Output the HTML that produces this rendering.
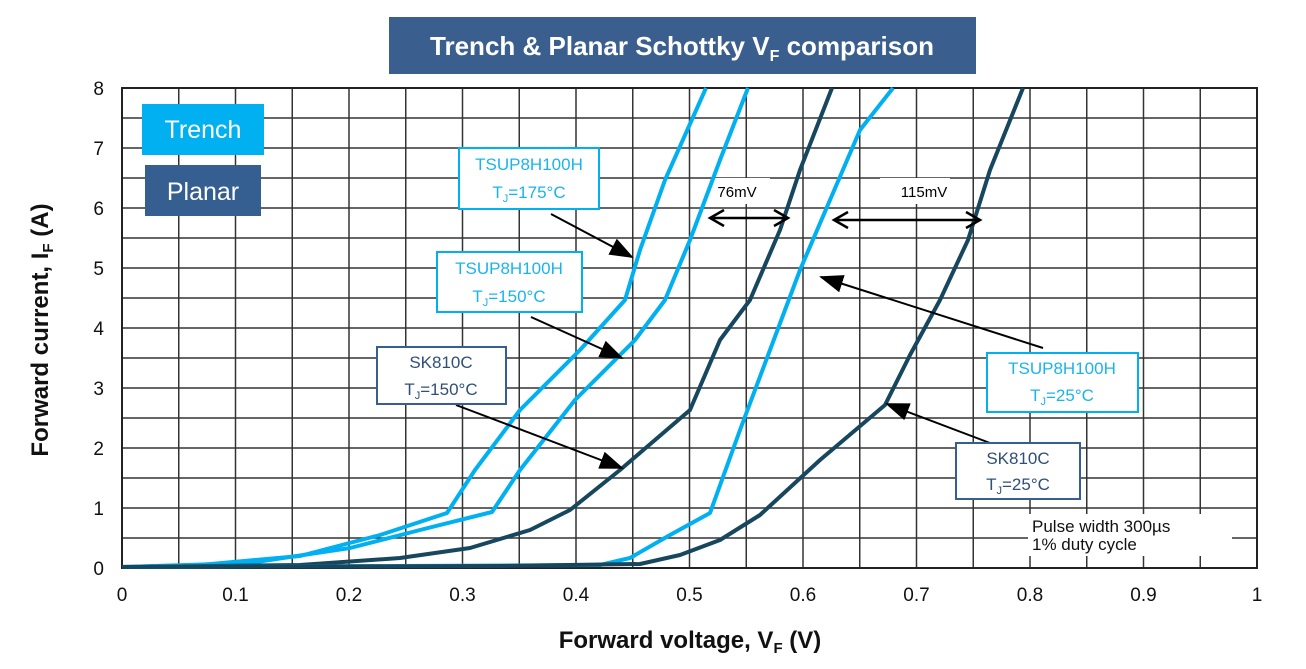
<!DOCTYPE html>
<html><head><meta charset="utf-8"><style>
body{margin:0;background:#fff;width:1306px;height:664px;overflow:hidden;font-family:"Liberation Sans",sans-serif}
</style></head><body>
<svg width="1306" height="664" xmlns="http://www.w3.org/2000/svg" font-family="Liberation Sans, sans-serif">
<defs>
<marker id="ah" markerWidth="24" markerHeight="18" refX="22" refY="9" orient="auto" markerUnits="userSpaceOnUse" viewBox="0 0 24 18"><path d="M0,0L24,9L0,18z" fill="#000"/></marker>
</defs>
<path stroke="#333" stroke-width="1.5" fill="none" d="M178.75,88V568M235.5,88V568M292.25,88V568M349,88V568M405.75,88V568M462.5,88V568M519.25,88V568M576,88V568M632.75,88V568M689.5,88V568M746.25,88V568M803,88V568M859.75,88V568M916.5,88V568M973.25,88V568M1030,88V568M1086.75,88V568M1143.5,88V568M1200.25,88V568
M122,118H1257M122,148H1257M122,178H1257M122,208H1257M122,238H1257M122,268H1257M122,298H1257M122,328H1257M122,358H1257M122,388H1257M122,418H1257M122,448H1257M122,478H1257M122,508H1257M122,538H1257"/>
<rect x="122" y="88" width="1135" height="480" fill="none" stroke="#222" stroke-width="2"/>
<rect x="1028" y="514" width="204" height="42" fill="#fff"/>
<text x="1032" y="532" font-size="17" fill="#111">Pulse width 300µs</text>
<text x="1032" y="550" font-size="17" fill="#111">1% duty cycle</text>
<rect x="712" y="178" width="58" height="26" fill="#fff"/>
<rect x="880" y="178" width="70" height="26" fill="#fff"/>
<text x="737" y="197" font-size="15" text-anchor="middle">76mV</text>
<text x="924" y="197" font-size="15" text-anchor="middle">115mV</text>
<g fill="none" stroke-width="4" stroke-linejoin="round">
<polyline stroke="#00b0f0" points="122,567 200,565 300,556 380,535 447,513 475,470 520,410 580,350 625,300 640,250 665,180 706,88"/>
<polyline stroke="#00b0f0" points="122,567 250,563 350,548 420,530 492,512 520,470 575,400 635,340 665,300 690,240 720,160 748,88"/>
<polyline stroke="#17475f" points="122,567 300,565 400,558 470,548 530,530 570,510 620,470 690,410 720,340 750,300 780,230 800,170 832,88"/>
<polyline stroke="#00b0f0" points="122,567 400,566 600,565 630,558 670,535 710,513 740,430 770,350 800,270 830,200 860,130 893,88"/>
<polyline stroke="#17475f" points="122,567 500,566 640,564 680,555 720,540 760,515 820,460 885,405 910,355 940,300 968,240 990,170 1023,88"/>
</g>
<g stroke="#000" stroke-width="2.5" fill="none">
<line x1="710" y1="218" x2="788" y2="218"/><polyline points="724,210 710,218 724,226"/><polyline points="774,210 788,218 774,226"/>
<line x1="834" y1="220" x2="980" y2="220"/><polyline points="848,212 834,220 848,228"/><polyline points="966,212 980,220 966,228"/>
</g>
<g stroke="#000" stroke-width="2" marker-end="url(#ah)">
<line x1="551" y1="214" x2="632" y2="257"/>
<line x1="531" y1="317" x2="622" y2="358"/>
<line x1="456" y1="405" x2="622" y2="468"/>
<line x1="1043" y1="348" x2="821" y2="277"/>
<line x1="990" y1="443" x2="887" y2="404"/>
</g>
<g font-size="17" text-anchor="middle">
<rect x="459" y="148" width="140" height="61" fill="#fff" stroke="#00b0f0" stroke-width="2"/>
<text x="529" y="170" fill="#1ab4ec">TSUP8H100H</text><text x="529" y="198" fill="#1ab4ec">T<tspan font-size="11" dy="4">J</tspan><tspan dy="-4">=175°C</tspan></text>
<rect x="437" y="252" width="145" height="60" fill="#fff" stroke="#00b0f0" stroke-width="2"/>
<text x="509" y="274" fill="#1ab4ec">TSUP8H100H</text><text x="509" y="302" fill="#1ab4ec">T<tspan font-size="11" dy="4">J</tspan><tspan dy="-4">=150°C</tspan></text>
<rect x="377" y="347" width="129" height="57" fill="#fff" stroke="#365f91" stroke-width="2"/>
<text x="441" y="368" fill="#2f4f75">SK810C</text><text x="441" y="395" fill="#2f4f75">T<tspan font-size="11" dy="4">J</tspan><tspan dy="-4">=150°C</tspan></text>
<rect x="987" y="353" width="151" height="59" fill="#fff" stroke="#00b0f0" stroke-width="2"/>
<text x="1062" y="374" fill="#1ab4ec">TSUP8H100H</text><text x="1062" y="401" fill="#1ab4ec">T<tspan font-size="11" dy="4">J</tspan><tspan dy="-4">=25°C</tspan></text>
<rect x="956" y="443" width="124" height="56" fill="#fff" stroke="#365f91" stroke-width="2"/>
<text x="1018" y="464" fill="#2f4f75">SK810C</text><text x="1018" y="490" fill="#2f4f75">T<tspan font-size="11" dy="4">J</tspan><tspan dy="-4">=25°C</tspan></text>
</g>
<rect x="142" y="104" width="122" height="51" fill="#00b0f0"/>
<text x="203" y="138" font-size="25" fill="#fff" text-anchor="middle">Trench</text>
<rect x="145" y="165" width="116" height="51" fill="#365f91"/>
<text x="203" y="200" font-size="25" fill="#fff" text-anchor="middle">Planar</text>
<rect x="389" y="17" width="587" height="57" fill="#3a5f8f"/>
<text x="682" y="55" font-size="26" font-weight="bold" fill="#fff" text-anchor="middle">Trench &amp; Planar Schottky V<tspan font-size="16" dy="6">F</tspan><tspan dy="-6"> comparison</tspan></text>
<g font-size="19" text-anchor="end" fill="#111">
<text x="104" y="575">0</text><text x="104" y="515">1</text><text x="104" y="455">2</text><text x="104" y="395">3</text><text x="104" y="335">4</text><text x="104" y="275">5</text><text x="104" y="215">6</text><text x="104" y="155">7</text><text x="104" y="95">8</text>
</g>
<g font-size="19" text-anchor="middle" fill="#111">
<text x="122" y="601">0</text><text x="235.5" y="601">0.1</text><text x="349" y="601">0.2</text><text x="462.5" y="601">0.3</text><text x="576" y="601">0.4</text><text x="689.5" y="601">0.5</text><text x="803" y="601">0.6</text><text x="916.5" y="601">0.7</text><text x="1030" y="601">0.8</text><text x="1143.5" y="601">0.9</text><text x="1257" y="601">1</text>
</g>
<text x="690" y="648" font-size="24" font-weight="bold" text-anchor="middle" fill="#111">Forward voltage, V<tspan font-size="15" dy="5">F</tspan><tspan dy="-5"> (V)</tspan></text>
<text transform="translate(48,330) rotate(-90)" font-size="24" font-weight="bold" text-anchor="middle" fill="#111">Forward current, I<tspan font-size="15" dy="5">F</tspan><tspan dy="-5"> (A)</tspan></text>
</svg>
</body></html>
